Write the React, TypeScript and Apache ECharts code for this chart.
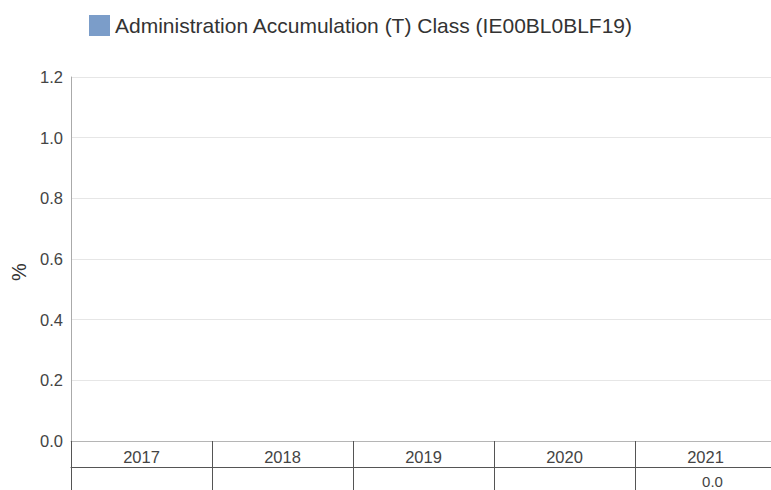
import React, { useEffect, useRef } from "react";
import * as echarts from "echarts";

const categories: string[] = ["2017", "2018", "2019", "2020", "2021"];
const seriesName = "Administration Accumulation (T) Class (IE00BL0BLF19)";
const values: (number | null)[] = [null, null, null, null, 0.0];
const yTicks: number[] = [0, 0.2, 0.4, 0.6, 0.8, 1.0, 1.2];

export default function App() {
  const ref = useRef<HTMLDivElement>(null);
  useEffect(() => {
    if (!ref.current) return;
    const chart = echarts.init(ref.current, null, { renderer: "svg" });
    const font = "'Liberation Sans', Arial, sans-serif";
    chart.setOption({
      animation: false,
      textStyle: { fontFamily: font },
      legend: {
        show: true,
        left: 89,
        top: 15,
        padding: 0,
        itemWidth: 21,
        itemHeight: 21,
        itemGap: 10,
        icon: "rect",
        textStyle: { fontSize: 21, color: "#333", fontFamily: font },
        data: [seriesName],
      },
      grid: {
        left: 71,
        top: 77,
        width: 705,
        height: 364,
        containLabel: false,
        outerBoundsMode: "none",
      },
      xAxis: [
        {
          type: "category",
          data: categories,
          position: "bottom",
          boundaryGap: true,
          axisLine: { show: true, lineStyle: { color: "#b5b5b5", width: 1 } },
          axisTick: { show: true, length: 26, lineStyle: { color: "#555", width: 1 } },
          axisLabel: { fontSize: 16.5, color: "#444", margin: 7, fontFamily: font },
        },
        {
          type: "category",
          data: categories,
          position: "bottom",
          offset: 26,
          boundaryGap: true,
          axisLine: { show: true, lineStyle: { color: "#555", width: 1 } },
          axisTick: { show: true, length: 30, lineStyle: { color: "#555", width: 1 } },
          axisLabel: {
            fontSize: 15,
            color: "#444",
            margin: 7,
            fontFamily: font,
            padding: [0, 0, 0, 14],
            formatter: (_v: string, i: number) =>
              values[i] === null ? "" : (values[i] as number).toFixed(1),
          },
        },
      ],
      yAxis: {
        type: "value",
        min: yTicks[0],
        max: yTicks[yTicks.length - 1],
        interval: 0.2,
        name: "%",
        nameLocation: "middle",
        nameRotate: 90,
        nameGap: 38,
        nameTextStyle: { fontSize: 20, color: "#333", fontFamily: font, padding: [0, 26, 0, 0] },
        axisLine: { show: true, lineStyle: { color: "#aaa" } },
        axisTick: { show: false },
        axisLabel: {
          fontSize: 16.5,
          color: "#444",
          margin: 8,
          fontFamily: font,
          formatter: (v: number) => v.toFixed(1),
        },
        splitLine: { show: true, lineStyle: { color: "#e6e6e6" } },
      },
      series: [
        {
          name: seriesName,
          type: "bar",
          xAxisIndex: 0,
          data: values,
          itemStyle: { color: "#7b9dc9" },
          barWidth: "60%",
        },
      ],
    });
    return () => chart.dispose();
  }, []);
  return (
    <div
      ref={ref}
      style={{ position: "fixed", left: 0, top: 0, width: 771, height: 490, background: "#fff" }}
    />
  );
}
